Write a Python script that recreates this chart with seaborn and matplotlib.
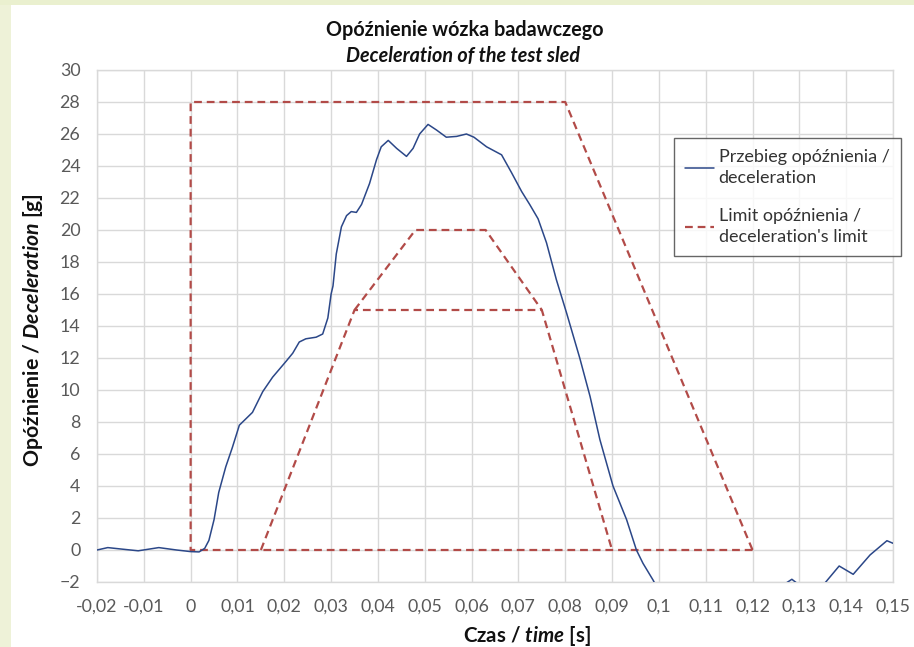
import matplotlib
matplotlib.use("Agg")
import matplotlib.pyplot as plt
from matplotlib.patches import Rectangle
from matplotlib.lines import Line2D
import seaborn as sns
import pandas as pd

# ---------------- data ----------------
time_s = [-0.02, -0.0177, -0.0145, -0.0112, -0.0068, -0.003, 0.0, 0.0018, 0.003, 0.0039,
          0.005, 0.006, 0.0075, 0.0089, 0.0104, 0.0118, 0.0132, 0.0154, 0.0175, 0.0204,
          0.0218, 0.0232, 0.0246, 0.0268, 0.0282, 0.0293, 0.03, 0.0304, 0.0311, 0.0322,
          0.0333, 0.0343, 0.0354, 0.0365, 0.0382, 0.0397, 0.0407, 0.0422, 0.044, 0.0461,
          0.0475, 0.0489, 0.0507, 0.0525, 0.0546, 0.0568, 0.0589, 0.0605, 0.0632, 0.0664,
          0.0685, 0.0707, 0.0724, 0.0742, 0.076, 0.0781, 0.0803, 0.0831, 0.0853, 0.0874,
          0.0902, 0.0931, 0.0952, 0.0966, 0.0988, 0.1, 0.105, 0.11, 0.115, 0.12,
          0.125, 0.127, 0.1284, 0.1296, 0.132, 0.1345, 0.1357, 0.1385, 0.1415, 0.1451,
          0.1487, 0.15]
decel_g = [0.0, 0.15, 0.05, -0.05, 0.15, 0.0, -0.1, -0.12, 0.1, 0.6,
           1.9, 3.6, 5.2, 6.4, 7.8, 8.2, 8.6, 9.9, 10.8, 11.8,
           12.3, 13.0, 13.2, 13.3, 13.5, 14.5, 16.0, 16.5, 18.5, 20.2,
           20.9, 21.15, 21.1, 21.6, 22.9, 24.4, 25.2, 25.6, 25.1, 24.6,
           25.1, 26.0, 26.6, 26.25, 25.8, 25.85, 26.0, 25.8, 25.2, 24.7,
           23.6, 22.4, 21.6, 20.7, 19.2, 16.9, 14.8, 12.0, 9.6, 6.9,
           4.0, 1.9, 0.0, -0.83, -1.9, -2.6, -4.5, -5.5, -5.0, -3.8,
           -2.6, -2.1, -1.83, -2.1, -2.8, -2.4, -1.98, -1.0, -1.52, -0.31,
           0.58, 0.42]

limit_outer_t = [0.12, 0.0, 0.0, 0.08, 0.12]
limit_outer_g = [0, 0, 28, 28, 0]
limit_lower_t = [0.015, 0.035, 0.075, 0.09]
limit_lower_g = [0, 15, 15, 0]
limit_mid_t = [0.035, 0.048, 0.063, 0.075]
limit_mid_g = [15, 20, 20, 15]

x_ticks = [-0.02, -0.01, 0.0, 0.01, 0.02, 0.03, 0.04, 0.05, 0.06, 0.07, 0.08,
           0.09, 0.1, 0.11, 0.12, 0.13, 0.14, 0.15]
x_tick_labels = ["-0,02", "-0,01", "0", "0,01", "0,02", "0,03", "0,04", "0,05", "0,06",
                 "0,07", "0,08", "0,09", "0,1", "0,11", "0,12", "0,13", "0,14", "0,15"]
y_ticks = [-2, 0, 2, 4, 6, 8, 10, 12, 14, 16, 18, 20, 22, 24, 26, 28, 30]

title_line1 = "Opóźnienie wózka badawczego"
title_line2 = "Deceleration of the test sled"
legend_labels = ["Przebieg opóźnienia /\ndeceleration", "Limit opóźnienia /\ndeceleration's limit"]

# ---------------- style ----------------
sns.set_theme(style="whitegrid")
plt.rcParams["font.family"] = ["Lato", "DejaVu Sans"]
plt.rcParams["mathtext.fontset"] = "custom"
plt.rcParams["mathtext.rm"] = "Lato:bold"
plt.rcParams["mathtext.it"] = "Lato:italic:bold"
plt.rcParams["mathtext.bf"] = "Lato:bold"

BLUE = "#2b4788"
RED = "#b24b48"
GRID = "#d9d9d9"
TICK = "#595959"

W, H = 914, 647
fig = plt.figure(figsize=(W / 100, H / 100), dpi=100, facecolor="white")
# slide background strips
fig.patches.append(Rectangle((0, 0), 11 / W, 1, transform=fig.transFigure,
                             facecolor="#eef2d8", edgecolor="none", zorder=0))
fig.patches.append(Rectangle((0, 1 - 5 / H), 1, 5 / H, transform=fig.transFigure,
                             facecolor="#eaf0cf", edgecolor="none", zorder=0))

left, right, top, bottom = 97, 893, 70, 582
ax = fig.add_axes([left / W, 1 - bottom / H, (right - left) / W, (bottom - top) / H])
ax.set_facecolor("white")

df = pd.DataFrame({"t": time_s, "g": decel_g})
sns.lineplot(data=df, x="t", y="g", ax=ax, color=BLUE, lw=1.1, sort=False,
             estimator=None, zorder=4)

dash = (3.5, 2.2)
for tt, gg in [(limit_outer_t, limit_outer_g), (limit_lower_t, limit_lower_g),
               (limit_mid_t, limit_mid_g)]:
    sns.lineplot(x=tt, y=gg, ax=ax, color=RED, lw=1.6, sort=False, estimator=None,
                 zorder=3)
for ln in ax.lines[1:]:
    ln.set_dashes(dash)

ax.set_xlim(-0.02, 0.15)
ax.set_ylim(-2, 30)
ax.set_xticks(x_ticks)
ax.set_xticklabels(x_tick_labels)
ax.set_yticks(y_ticks)
ax.grid(True, color=GRID, lw=1.0)
for s in ax.spines.values():
    s.set_color(GRID)
    s.set_linewidth(1.0)
ax.tick_params(axis="both", length=0, colors=TICK, labelsize=12.8)
ax.tick_params(axis="y", pad=12)
ax.tick_params(axis="x", pad=12)
ax.set_xlabel("")
ax.set_ylabel("")

fig.text(527 / W, 1 - 636 / H, r"Czas / $\mathit{time}$ [s]", ha="center", va="center",
         fontsize=14.8, fontweight="bold", color="#111111")
fig.text(33 / W, 1 - 330 / H, r"Opóźnienie / $\mathit{Deceleration}$ [g]", ha="center",
         va="center", rotation=90, fontsize=15.3, fontweight="bold", color="#111111")
fig.text(465 / W, 1 - 30 / H, title_line1, ha="center", va="center", fontsize=14.2,
         fontweight="bold", color="#111111")
fig.text(463 / W, 1 - 56 / H, title_line2, ha="center", va="center", fontsize=14.2,
         fontweight="bold", fontstyle="italic", color="#111111")

handles = [Line2D([], [], color=BLUE, lw=1.1),
           Line2D([], [], color=RED, lw=1.6, dashes=dash)]
leg = ax.legend(handles, legend_labels, loc="upper left",
                bbox_to_anchor=(674 / W, 1 - 138 / H), bbox_transform=fig.transFigure,
                frameon=True, fancybox=False, fontsize=13.0, handlelength=1.6,
                handletextpad=0.25, labelspacing=1.2, borderpad=0.62, borderaxespad=0)
leg.get_frame().set_edgecolor("#404040")
leg.get_frame().set_linewidth(1.0)
for txt in leg.get_texts():
    txt.set_color("#333333")
    txt.set_linespacing(1.4)

fig.savefig("out.png", dpi=100, facecolor=fig.get_facecolor())
